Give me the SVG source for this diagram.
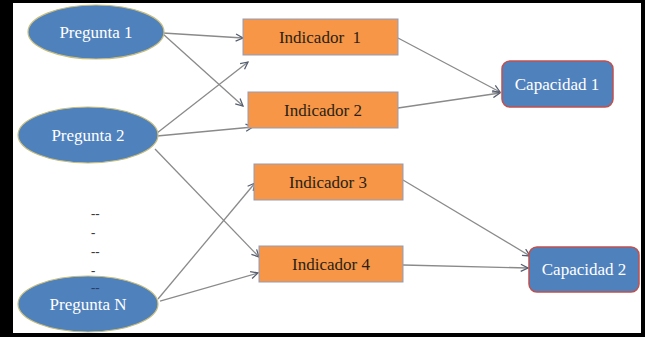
<svg xmlns="http://www.w3.org/2000/svg" width="645" height="337" viewBox="0 0 645 337">
<defs>
<marker id="arr" viewBox="0 0 10 10" refX="9" refY="5" markerWidth="9" markerHeight="9" markerUnits="userSpaceOnUse" orient="auto">
<path d="M1,1 L9,5 L1,9" fill="none" stroke="#555e70" stroke-width="1.4"/>
</marker>
<style>
.q{fill:#4F81BD;stroke:#c9bd7a;stroke-width:1.2}
.ind{fill:#F79646;stroke:#8f9dbb;stroke-width:1}
.cap{fill:#4F81BD;stroke:#C0504D;stroke-width:1.5}
.wt{font-family:"Liberation Serif","DejaVu Serif",serif;font-size:17px;fill:#ffffff;text-anchor:middle}
.dt{font-family:"Liberation Serif","DejaVu Serif",serif;font-size:17px;fill:#2b1f14;text-anchor:middle}
.dash{font-family:"Liberation Serif","DejaVu Serif",serif;font-size:13px;fill:#3a3a3a;font-weight:bold}
.c{fill:none;stroke:#8a8a8a;stroke-width:1.3;marker-end:url(#arr)}
</style>
</defs>
<rect x="0" y="0" width="645" height="337" fill="#000000"/>
<rect x="13" y="3" width="628" height="330" fill="#ffffff"/>

<g id="connectors">
<path class="c" d="M163,33 L243,38"/>
<path class="c" d="M163,34 L243,106"/>
<path class="c" d="M157,133 L248,62"/>
<path class="c" d="M157,136 L253,127"/>
<path class="c" d="M155,149 L259,257"/>
<path class="c" d="M158,299 L255,183"/>
<path class="c" d="M160,301 L258,273"/>
<path class="c" d="M398,38 L500,92"/>
<path class="c" d="M398,108 L500,93"/>
<path class="c" d="M403,180 L530,256"/>
<path class="c" d="M403,265 L528,268"/>
</g>

<g id="pregunta1">
<ellipse class="q" cx="96" cy="32" rx="68" ry="27"/>
<text class="wt" x="96" y="38">Pregunta 1</text>
</g>
<g id="pregunta2">
<ellipse class="q" cx="88" cy="135" rx="70" ry="28"/>
<text class="wt" x="88" y="141">Pregunta 2</text>
</g>
<g id="dots">
<text class="dash" x="91" y="218">--</text>
<text class="dash" x="91" y="237">-</text>
<text class="dash" x="91" y="256">--</text>
<text class="dash" x="91" y="275">-</text>
</g>
<g id="preguntaN">
<ellipse class="q" cx="88" cy="304" rx="70" ry="28"/>
<text class="dash" x="91" y="292" style="fill:#2a3f66">--</text>
<text class="wt" x="88" y="310">Pregunta N</text>
</g>
<rect x="0" y="333" width="645" height="4" fill="#000000"/>

<g id="indicador1">
<rect class="ind" x="243" y="19" width="155" height="36"/>
<text class="dt" x="320" y="43" xml:space="preserve">Indicador  1</text>
</g>
<g id="indicador2">
<rect class="ind" x="248" y="92" width="150" height="36"/>
<text class="dt" x="323" y="116">Indicador 2</text>
</g>
<g id="indicador3">
<rect class="ind" x="254" y="164" width="149" height="36"/>
<text class="dt" x="328" y="188">Indicador 3</text>
</g>
<g id="indicador4">
<rect class="ind" x="259" y="246" width="144" height="36"/>
<text class="dt" x="331" y="270">Indicador 4</text>
</g>

<g id="capacidad1">
<rect class="cap" x="502" y="61" width="111" height="46" rx="8"/>
<text class="wt" x="557" y="90">Capacidad 1</text>
</g>
<g id="capacidad2">
<rect class="cap" x="529" y="247" width="110" height="45" rx="8"/>
<text class="wt" x="584" y="275">Capacidad 2</text>
</g>
</svg>
